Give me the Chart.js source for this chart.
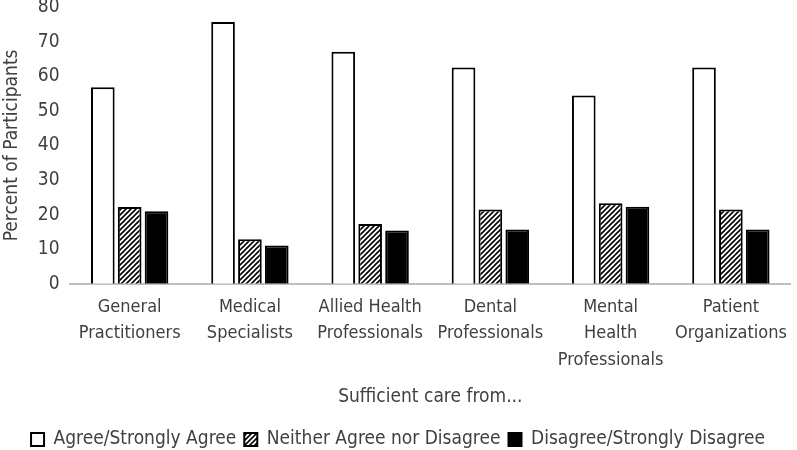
<!DOCTYPE html>
<html><head><meta charset="utf-8">
<script src="https://cdn.jsdelivr.net/npm/chart.js@4/dist/chart.umd.min.js"></script>
<style>html,body{margin:0;padding:0;background:#fff}</style>
</head><body>
<canvas id="c" width="797" height="450"></canvas>
<script>
const categories = [["General","Practitioners"],["Medical","Specialists"],["Allied Health","Professionals"],["Dental","Professionals"],["Mental","Health","Professionals"],["Patient","Organizations"]];
const seriesNames = ["Agree/Strongly Agree","Neither Agree nor Disagree","Disagree/Strongly Disagree"];
const agree = [56.8,75.7,67.1,62.5,54.4,62.5];
const neither = [22.2,12.9,17.3,21.5,23.3,21.5];
const disagree = [21.0,11.1,15.4,15.7,22.3,15.7];
const yMin = 0, yMax = 80, yStep = 10;
const xTitle = "Sufficient care from...";
const yTitle = "Percent of Participants";

const FONT = "'DejaVu Sans Condensed','Open Sans',sans-serif";
const TXT = '#404040';

function hatch(){
  const s = 5;
  const p = document.createElement('canvas'); p.width = s; p.height = s;
  const g = p.getContext('2d');
  g.fillStyle = '#fff'; g.fillRect(0,0,s,s);
  g.strokeStyle = '#000'; g.lineWidth = 1.6;
  g.beginPath();
  g.moveTo(-1, s+1); g.lineTo(s+1, -1);
  g.moveTo(-1, 1); g.lineTo(1, -1);
  g.moveTo(s-1, s+1); g.lineTo(s+1, s-1);
  g.stroke();
  return document.getElementById('c').getContext('2d').createPattern(p,'repeat');
}

const legendShrink = {
  id:'legendShrink',
  afterInit(chart){
    const lg = chart.legend;
    if (!lg) return;
    const f = lg.fit.bind(lg);
    lg.fit = function(){ f(); this.height = Math.max(0, this.height - 9); };
  }
};

const common = {borderColor:'#000', borderWidth:2, categoryPercentage:0.67, barPercentage:0.88};
new Chart(document.getElementById('c'), {
  type:'bar',
  data:{
    labels: categories,
    datasets:[
      Object.assign({label:seriesNames[0], data:agree, backgroundColor:'#fff'}, common),
      Object.assign({label:seriesNames[1], data:neither, backgroundColor:hatch()}, common),
      Object.assign({label:seriesNames[2], data:disagree, backgroundColor:'#000'}, common)
    ]
  },
  plugins:[legendShrink],
  options:{
    responsive:false, animation:false,
    layout:{padding:{top:7,right:2,left:1,bottom:0}},
    plugins:{
      tooltip:{enabled:false},
      legend:{position:'bottom', labels:{font:{family:FONT,size:19}, color:TXT, boxWidth:13, boxHeight:13, padding:8}},
    },
    scales:{
      x:{
        grid:{display:false, drawTicks:false},
        border:{display:true, color:'#bfbfbf', width:2},
        ticks:{font:{family:FONT,size:18,lineHeight:1.47}, color:TXT, padding:10, maxRotation:0, autoSkip:false},
        title:{display:true, text:xTitle, font:{family:FONT,size:19}, color:TXT, padding:{top:2,bottom:14}}
      },
      y:{
        min:yMin, max:yMax,
        grid:{display:false, drawTicks:false},
        border:{display:false},
        afterFit(s){ s.paddingTop = 0; },
        ticks:{stepSize:yStep, font:{family:FONT,size:19}, color:TXT, padding:10},
        title:{display:true, text:yTitle, font:{family:FONT,size:19}, color:TXT, padding:{top:0,bottom:4}}
      }
    }
  }
});
</script>
</body></html>
